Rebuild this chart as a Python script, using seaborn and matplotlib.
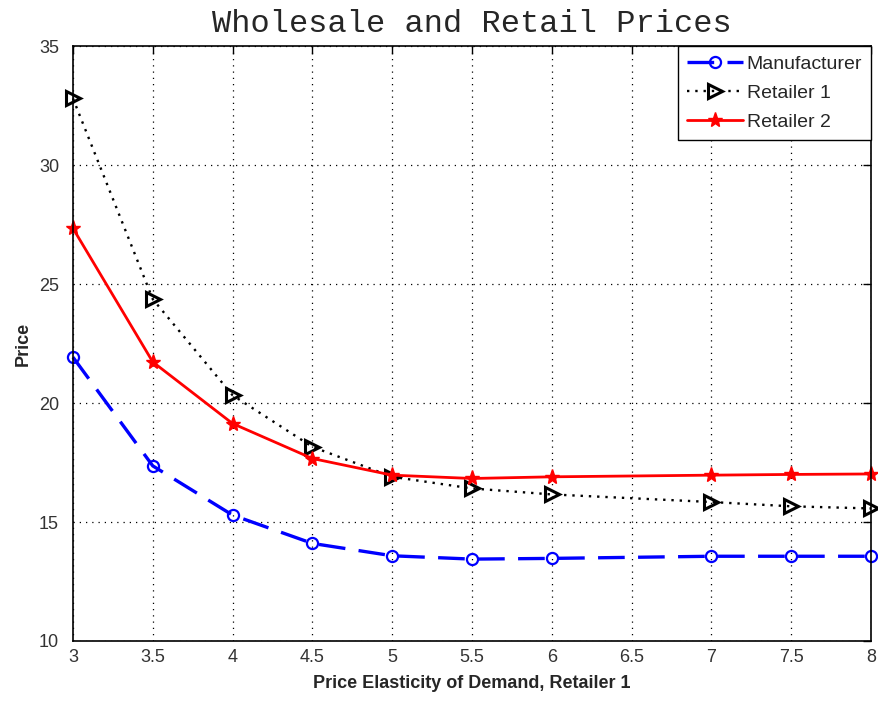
import matplotlib
matplotlib.use("Agg")
import matplotlib.pyplot as plt
import seaborn as sns
import pandas as pd

# Price elasticity of demand for retailer 1
elasticity = [3, 3.5, 4, 4.5, 5, 5.5, 6, 7, 7.5, 8]
manufacturer = [21.93, 17.36, 15.29, 14.10, 13.58, 13.44, 13.47, 13.56, 13.56, 13.56]
retailer1 = [32.81, 24.37, 20.33, 18.16, 16.90, 16.41, 16.16, 15.84, 15.66, 15.57]
retailer2 = [27.35, 21.73, 19.14, 17.67, 16.97, 16.83, 16.90, 16.97, 17.00, 17.02]
x_ticks = [3, 3.5, 4, 4.5, 5, 5.5, 6, 6.5, 7, 7.5, 8]
x_tick_labels = ["3", "3.5", "4", "4.5", "5", "5.5", "6", "6.5", "7", "7.5", "8"]
y_ticks = [10, 15, 20, 25, 30, 35]

sns.set_style("white")
plt.rcParams["font.family"] = ["Liberation Sans", "DejaVu Sans"]

df = pd.DataFrame({
    "elasticity": elasticity,
    "Manufacturer": manufacturer,
    "Retailer 1": retailer1,
    "Retailer 2": retailer2,
})

fig = plt.figure(figsize=(8.79, 7.02), dpi=100)
ax = fig.add_axes([0.083, 0.087, 0.908, 0.847])

sns.lineplot(data=df, x="elasticity", y="Manufacturer", ax=ax, color="#0000ff",
             linewidth=2.4, label="Manufacturer",
             marker="o", markersize=8, markerfacecolor="none",
             markeredgecolor="#0000ff", markeredgewidth=1.6)
ax.lines[-1].set_dashes([8, 4])

sns.lineplot(data=df, x="elasticity", y="Retailer 1", ax=ax, color="black",
             linewidth=1.7, label="Retailer 1",
             marker=">", markersize=10, markerfacecolor="none",
             markeredgecolor="black", markeredgewidth=2.2)
ax.lines[-1].set_linestyle((0, (1, 2.5)))

sns.lineplot(data=df, x="elasticity", y="Retailer 2", ax=ax, color="#ff0000",
             linewidth=2.0, label="Retailer 2",
             marker="*", markersize=11, markerfacecolor="#ff0000",
             markeredgecolor="#ff0000", markeredgewidth=1.0)

for ln in ax.lines:
    ln.set_clip_on(False)

ax.set_xlim(3, 8)
ax.set_ylim(10, 35)
ax.set_xticks(x_ticks)
ax.set_xticklabels(x_tick_labels)
ax.set_yticks(y_ticks)
ax.tick_params(axis="both", direction="in", length=6, width=1, top=True, right=True,
               labelsize=13, colors="black")
ax.tick_params(axis="x", pad=6)
ax.tick_params(axis="y", pad=10)
for lbl in ax.get_xticklabels() + ax.get_yticklabels():
    lbl.set_color("#333333")

ax.grid(True, linestyle=(0, (1, 4)), color="black", linewidth=0.9)
for spine in ax.spines.values():
    spine.set_color("black")
    spine.set_linewidth(1.2)

ax.set_xlabel("Price Elasticity of Demand, Retailer 1", fontsize=13, fontweight="bold", labelpad=6)
ax.set_ylabel("Price", fontsize=13, fontweight="bold", labelpad=5)
ax.set_title("Wholesale and Retail Prices", fontsize=23, family="Liberation Mono", pad=10)

leg = ax.legend(loc="upper right", fontsize=14, frameon=True, fancybox=False,
                edgecolor="black", framealpha=1, borderpad=0.45, labelspacing=0.6,
                handlelength=2.9, handletextpad=0.2, borderaxespad=0.0)
leg.get_frame().set_linewidth(1.0)

fig.savefig("out.png", dpi=100)
